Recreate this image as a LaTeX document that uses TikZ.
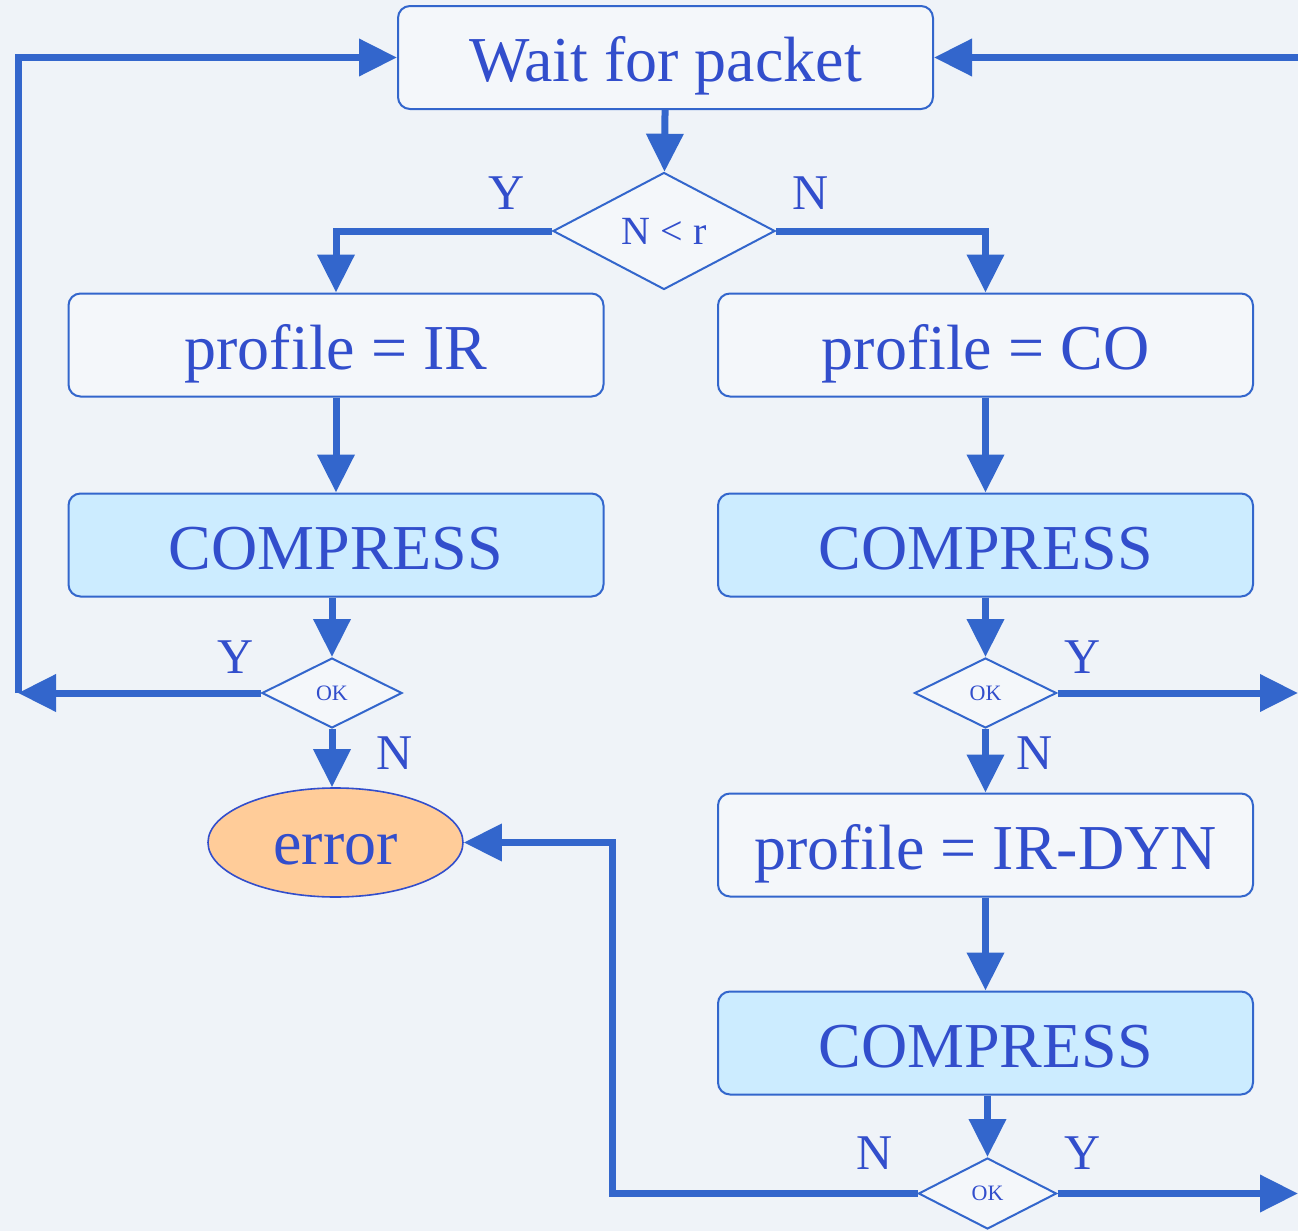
\documentclass[tikz,border=0pt]{standalone}
\usepackage{fontspec}
\setmainfont{Liberation Serif}
\usetikzlibrary{arrows.meta,shapes.geometric}
\definecolor{flow}{RGB}{51,102,204}
\definecolor{ink}{RGB}{50,78,204}
\definecolor{cmpfill}{RGB}{204,236,255}
\definecolor{errfill}{RGB}{255,204,153}
\definecolor{paper}{RGB}{239,243,248}
\tikzset{
  box/.style={draw=flow,line width=1pt,rounded corners=6pt,fill=white,fill opacity=0.35,text opacity=1,
    minimum width=267.5pt,minimum height=51.5pt,inner sep=0pt,text=ink,
    text height=24pt,text depth=0pt,font=\fontsize{32}{36}\selectfont},
  cmpbox/.style={box,fill=cmpfill,fill opacity=1},
  test/.style={diamond,draw=flow,line width=1pt,fill=white,fill opacity=0.35,text opacity=1,
    inner sep=0pt,text=ink},
  arr/.style={draw=flow,line width=3.5pt,-{Triangle[length=19pt,width=18pt]}},
  lbl/.style={text=ink,font=\fontsize{25}{28}\selectfont}
}
\begin{document}
\begin{tikzpicture}[x=0.5pt,y=-0.5pt]
\useasboundingbox (0,0) rectangle (1298,1231);
\fill[paper] (0,0) rectangle (1298,1231);
% boxes
\node[box] (wait) at (665.5,57.5) {Wait for packet};
\node[test,minimum width=111pt,minimum height=58.5pt,font=\fontsize{20}{22}\selectfont] (cmp) at (664,231) {N < r};
\node[box] (ir) at (336,345) {profile = IR};
\node[box] (co) at (985.5,345) {profile = CO};
\node[cmpbox] (cL) at (336,545) {COMPRESS};
\node[cmpbox] (cR) at (985.5,545) {COMPRESS};
\node[test,minimum width=70pt,minimum height=35pt,font=\fontsize{11}{12}\selectfont] (okL) at (332,693) {OK};
\node[test,minimum width=71pt,minimum height=35pt,font=\fontsize{11}{12}\selectfont] (okR) at (985.5,693) {OK};
\node[ellipse,draw=ink,line width=0.8pt,fill=errfill,minimum width=127.5pt,minimum height=54.5pt,
  inner sep=0pt,text=ink,text height=22pt,text depth=0pt,font=\fontsize{32}{36}\selectfont] (err) at (335.5,842.5) {error};
\node[box] (dyn) at (985.5,845) {profile = IR-DYN};
\node[cmpbox] (cB) at (985.5,1043) {COMPRESS};
\node[test,minimum width=69pt,minimum height=35.5pt,font=\fontsize{11}{12}\selectfont] (okB) at (987.5,1193.5) {OK};
% edge points
\coordinate (lft) at (18,57.5);
\coordinate (rgt) at (1298,57.5);
\coordinate (ret) at (612,842.5);
% flow
\draw[arr] (wait) -- (cmp);
\draw[arr] (cmp.west) -| (ir);
\draw[arr] (cmp.east) -| (co);
\draw[arr] (ir) -- (cL);
\draw[arr] (co) -- (cR);
\draw[arr] (cL.south -| okL) -- (okL);
\draw[arr] (cR) -- (okR);
\draw[arr] (okL.west) -- (okL.west -| lft);
\draw[arr] (okL.west -| lft) -- (lft) -- (wait.west);
\draw[arr] (rgt) -- (wait.east);
\draw[arr] (okL) -- (okL |- err.north);
\draw[arr] (okR.east) -- (okR.east -| rgt);
\draw[arr] (okR) -- (dyn);
\draw[arr] (dyn) -- (cB);
\draw[arr] (cB.south -| okB) -- (okB);
\draw[arr] (okB.west) -| (ret) -- (err.east);
\draw[arr] (okB.east) -- (okB.east -| rgt);
% labels
\node[lbl] (yTop) at (507,193) {Y};
\node[lbl] (nTop) at (811,193) {N};
\node[lbl] (yL) at (236,657) {Y};
\node[lbl] (nL) at (395,753) {N};
\node[lbl] (yR) at (1083,657) {Y};
\node[lbl] (nR) at (1035,753) {N};
\node[lbl] (nB) at (875,1153) {N};
\node[lbl] (yB) at (1083,1153) {Y};
\end{tikzpicture}
\end{document}
